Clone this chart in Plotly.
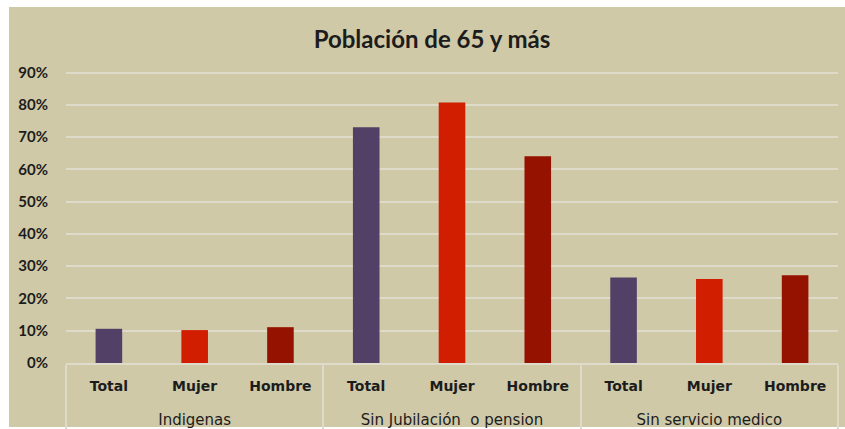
import plotly.graph_objects as go

groups = ["Indigenas", "Sin Jubilación\u00a0 o pension", "Sin servicio medico"]
categories = ["Total", "Mujer", "Hombre"]
values = [
    [0.106, 0.102, 0.111],   # Indigenas
    [0.731, 0.807, 0.641],   # Sin Jubilación o pension
    [0.265, 0.260, 0.272],   # Sin servicio medico
]
cat_colors = {"Total": "#524066", "Mujer": "#D11D00", "Hombre": "#961200"}
y_ticks = [i / 10 for i in range(10)]

BG = "#CFC9A8"
GRID = "#DFDBCA"
TXT = "#1c1c1c"

xg, xc, yv, cols = [], [], [], []
for g, vals in zip(groups, values):
    for c, v in zip(categories, vals):
        xg.append(f"<span style='font-size:15px'>{g}</span>")
        xc.append(f"<span style='font-size:14px'><b>{c}</b></span><br>\u00a0<br>\u00a0")
        yv.append(v)
        cols.append(cat_colors[c])

fig = go.Figure()
fig.add_trace(go.Bar(
    x=[xg, xc], y=yv,
    marker=dict(color=cols, line=dict(width=0)),
    width=0.31,
    hoverinfo="skip",
))

W, H = 845, 429
ml, mr, mt, mb = 66, 7, 69, 66
pw, ph = W - ml - mr, H - mt - mb
y_top = 0.9 * ph / 290.4

fig.add_shape(
    type="rect", xref="paper", yref="paper", layer="below",
    x0=(9 - ml) / pw, x1=(W - ml) / pw,
    y0=(H - mb - 427) / ph, y1=(H - mb - 7) / ph,
    fillcolor=BG, line=dict(width=0),
)

fig.update_layout(
    width=W, height=H,
    margin=dict(l=ml, r=mr, t=mt, b=mb, autoexpand=False),
    paper_bgcolor="white",
    plot_bgcolor="rgba(0,0,0,0)",
    showlegend=False,
    title=dict(
        text="Población de 65 y más",
        font=dict(family="Lato", size=24, color=TXT, weight="bold"),
        x=432 / W, xref="container", xanchor="center",
        y=1 - 40 / H, yref="container", yanchor="middle",
    ),
    xaxis=dict(
        type="multicategory", automargin=False,
        showdividers=True, dividercolor=GRID, dividerwidth=2,
        showline=True, linecolor=GRID, linewidth=2,
        showgrid=False, ticks="",
        ticklabelstandoff=13,
        tickfont=dict(family="DejaVu Sans", size=11, color=TXT),
    ),
    yaxis=dict(
        range=[0, y_top], tickvals=y_ticks, tickformat=".0%",
        automargin=False,
        showgrid=True, gridcolor=GRID, gridwidth=2,
        zeroline=False, showline=False, ticks="",
        ticklabelstandoff=17,
        tickfont=dict(family="Lato", size=15, color=TXT, weight="bold"),
    ),
)

fig.write_html("out.html", config={"displayModeBar": False},
               post_script="document.body.style.margin='0';")
